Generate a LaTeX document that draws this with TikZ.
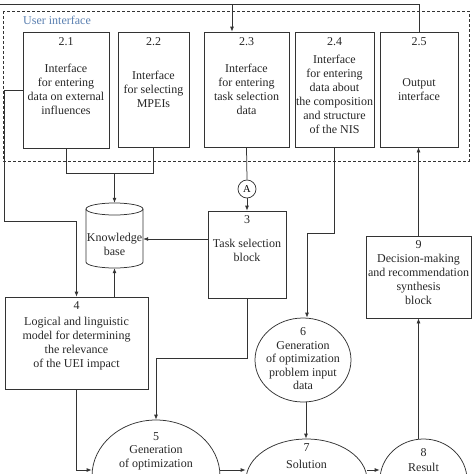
\documentclass[tikz,border=0pt]{standalone}
\usepackage{fontspec}
\setmainfont{Liberation Serif}
\usetikzlibrary{arrows.meta,shapes.geometric,calc}
\definecolor{uiblue}{HTML}{5A7FB0}
\begin{document}
\begin{tikzpicture}[x=1pt,y=-1pt,
  ln/.style={line width=0.75pt, draw=black!80},
  arr/.style={ln,-{Latex[length=5pt,width=4pt]}},
  boxx/.style={ln, rectangle, inner sep=0pt},
  ell/.style={ln, ellipse, inner sep=0pt},
  txt/.style={align=center, inner sep=0pt, font=\fontsize{12}{14}\selectfont, text=black!85},
]
\useasboundingbox (0,0) rectangle (474,474);
\clip (0,0) rectangle (474,474);

% user interface frame
\draw[ln, dash pattern=on 3pt off 2pt] (3,11) rectangle (469,161);
\node[anchor=west, inner sep=0pt, font=\fontsize{12}{13}\selectfont, text=uiblue] (uilab) at (23,20) {User interface};

% interface boxes
\node[boxx, minimum width=86pt, minimum height=116pt] (b21) at (66,90) {};
\node[boxx, minimum width=71pt, minimum height=115pt] (b22) at (153.5,89.5) {};
\node[boxx, minimum width=85pt, minimum height=115pt] (b23) at (246.5,89.5) {};
\node[boxx, minimum width=79pt, minimum height=115pt] (b24) at (334.5,89.5) {};
\node[boxx, minimum width=78pt, minimum height=115pt] (b25) at (419,89.5) {};

\node[txt] (n21) at (66,42) {2.1};
\node[txt] (n22) at (153.5,42) {2.2};
\node[txt] (n23) at (246.5,42) {2.3};
\node[txt] (n24) at (334.5,42) {2.4};
\node[txt] (n25) at (419,42) {2.5};

\node[txt] (t21) at (66,89) {Interface\\for entering\\data on external\\influences};
\node[txt] (t22) at (153.5,89) {Interface\\for selecting\\MPEIs};
\node[txt] (t23) at (246.5,89) {Interface\\for entering\\task selection\\data};
\node[txt] (t24) at (334.5,94.5) {Interface\\for entering\\data about\\the composition\\and structure\\of the NIS};
\node[txt] (t25) at (419,89.5) {Output\\interface};

% knowledge base cylinder
\node[minimum width=57pt, minimum height=65pt, inner sep=0pt] (kb) at (114.5,235.5) {};
\draw[ln] (86,209) -- (86,262) arc[start angle=180, end angle=360, x radius=28.5pt, y radius=6pt] -- (143,209);
\draw[ln] (114.5,209) ellipse [x radius=28.5pt, y radius=6pt];
\node[txt] (tkb) at (114.5,244.5) {Knowledge\\base};

% connector A
\node[ln, circle, minimum size=18pt, inner sep=0pt, font=\fontsize{10.5}{11}\selectfont] (A) at (247,189) {A};

% blocks 3, 4, 9
\node[boxx, minimum width=78pt, minimum height=87pt] (b3) at (247,254.5) {};
\node[txt] (n3) at (247,220) {3};
\node[txt] (t3) at (247,250.5) {Task selection\\block};

\node[boxx, minimum width=143pt, minimum height=92pt] (b4) at (76.5,343) {};
\node[txt] (n4) at (76.5,306) {4};
\node[txt] (t4) at (76.5,343.5) {Logical and linguistic\\model for determining\\the relevance\\of the UEI impact};

\node[boxx, minimum width=105pt, minimum height=82pt] (b9) at (418.5,277) {};
\node[txt] (n9) at (418.5,245) {9};
\node[txt] (t9) at (418.5,279.5) {Decision-making\\and recommendation\\synthesis\\block};

% ellipses
\node[ell, minimum width=96pt, minimum height=84pt] (e6) at (303,360) {};
\node[txt, font=\fontsize{12}{13.5}\selectfont] (t6) at (303,359) {6\\Generation\\of optimization\\problem input\\data};

\node[ell, minimum width=128pt, minimum height=112pt] (e5) at (156,476) {};
\node[txt] (n5) at (156,437) {5};
\node[txt] (t5) at (156,458) {Generation\\of optimization};

\node[ell, minimum width=121pt, minimum height=82pt] (e7) at (306.5,480) {};
\node[txt] (n7) at (306.5,448) {7};
\node[txt] (t7) at (306.5,464) {Solution};

\node[ell, minimum width=87pt, minimum height=82pt] (e8) at (423.5,480) {};
\node[txt] (n8) at (423.5,453) {8};
\node[txt] (t8) at (423.5,467) {Result};

% top feedback line
\coordinate (topl) at (0,4);
\coordinate (t23in) at (232,4);
\coordinate (j1) at (114.5,173);
\draw[ln] (b25.north) |- (topl);
\draw[arr] (t23in) -- (t23in |- b23.north);

% connectors
\draw[ln] (b21.south) -- ++(0,25) -| (b22.south);
\draw[arr] (j1) -- (kb.north);
\draw[arr] (b21.west) -- ++(-18,0) -- ++(0,131) -| (b4.north);
\draw[arr] (b4.north -| kb.south) -- (kb.south);
\draw[arr] ([yshift=15.5pt]b3.west) -- ([yshift=15.5pt]b3.west -| kb.east);
\draw[ln] (b23.south) -- (A.north);
\draw[arr] (A.south) -- (b3.north);
\draw[arr] (b24.south) -- ++(0,86) -| ([xshift=4pt]e6.north);
\draw[arr] (b3.south) -- ++(0,60) -| (e5.north);
\draw[arr] (b4.south) |- ([yshift=6pt]e5.west);
\draw[arr] ([yshift=6pt]e5.east) -- ([yshift=6pt]e5.east -| e7.west);
\draw[arr] ([yshift=10pt]e7.east) -- ([yshift=10pt]e8.west);
\draw[arr] ([xshift=3pt]e6.south) -- ([xshift=3pt]e6.south |- e7.north);
\draw[arr] (b9.south |- e8.north) -- (b9.south);
\draw[arr] (b9.north) -- (b9.north |- b25.south);
\end{tikzpicture}
\end{document}
